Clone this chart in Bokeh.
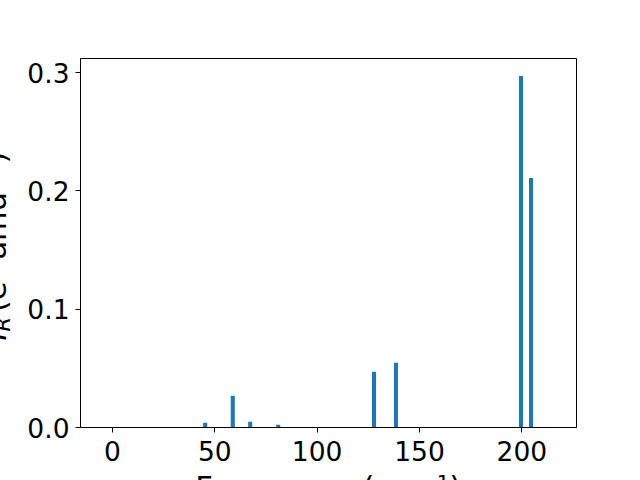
import math
from bokeh.plotting import figure
from bokeh.models import Range1d, FixedTicker, PrintfTickFormatter
from bokeh.core.properties import value
from bokeh.embed import file_html
from bokeh.resources import INLINE

# Data
frequencies = [45.3, 58.8, 67.3, 81.0, 127.8, 138.5, 199.6, 204.5]
intensities = [0.0040, 0.0268, 0.0048, 0.0023, 0.0471, 0.0547, 0.2973, 0.2110]
x_ticks = [0, 50, 100, 150, 200]
y_ticks = [0.0, 0.1, 0.2, 0.3]
x_label = "Frequency (cm⁻¹)"
y_label_main = "I"
y_label_sub = "R"
y_label_rest = " (e² amu⁻¹)"

FONT = "DejaVu Sans"
FS = "26.5px"
LFS = "30.5px"
SFS = "21px"

p = figure(width=640, height=480, output_backend="svg", toolbar_location=None,
           x_range=Range1d(-15.6, 226.7), y_range=Range1d(0, 0.312),
           min_border_left=80, min_border_right=64, min_border_top=58, min_border_bottom=53)

p.vbar(x=frequencies, top=intensities, width=2.0, bottom=0,
       fill_color="#1f77b4", line_color=None)

p.xgrid.visible = False
p.ygrid.visible = False
p.outline_line_color = "black"
p.outline_line_width = 1
p.outline_line_alpha = 1.0
p.background_fill_color = "white"
p.border_fill_color = "white"

for ax in (p.xaxis[0], p.yaxis[0]):
    ax.axis_line_color = "black"
    ax.major_tick_line_color = "black"
    ax.major_tick_out = 5
    ax.major_tick_in = 0
    ax.minor_tick_line_color = None
    ax.major_label_text_font = FONT
    ax.major_label_text_font_size = FS
    ax.major_label_text_color = "black"

p.xaxis.ticker = FixedTicker(ticks=x_ticks)
p.yaxis.ticker = FixedTicker(ticks=y_ticks)
p.yaxis.formatter = PrintfTickFormatter(format="%.1f")
p.xaxis.major_label_standoff = 8
p.yaxis.major_label_standoff = 6

# Axis titles (overlay-level text so they may sit outside the frame,
# cut off at the picture's edge as in the reference)
common = dict(text_baseline="alphabetic", text_font=value(FONT), text_color="black",
              level="overlay")
p.text(x=[105.4], y=[-0.051], text=[x_label], text_align="center",
       text_font_size=value(LFS), **common)

yx = -57.0
p.text(x=[yx], y=[0.0735], text=[y_label_main], angle=math.pi / 2, text_align="left",
       text_font_size=value(LFS), text_font_style="italic", **common)
p.text(x=[yx + 3.4], y=[0.0811], text=[y_label_sub], angle=math.pi / 2, text_align="left",
       text_font_size=value(SFS), text_font_style="italic", **common)
p.text(x=[yx], y=[0.0975], text=[y_label_rest], angle=math.pi / 2, text_align="left",
       text_font_size=value(LFS), **common)

open("out.html", "w").write(file_html(p, INLINE))
